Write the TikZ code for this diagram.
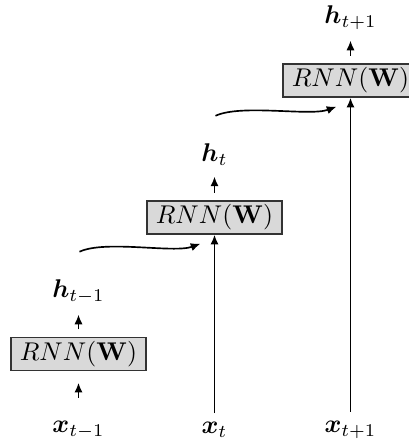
\documentclass[tikz,border=0pt]{standalone}
\usepackage{bm}
\usepackage{tikz}
\usetikzlibrary{positioning}
\usetikzlibrary{calc}
\usetikzlibrary{arrows.meta}

\begin{document}
\begin{tikzpicture}[x = 0.39pt, y = -0.39pt, >={Latex[length = 3.8pt, width = 3.2pt]}, line width = 0.65pt,
                    font = \fontsize{10.3}{12.5}\selectfont,
                    rnnRectangle/.style = {draw = black!80, line width = 0.5pt, rectangle, fill = black!15, inner sep = 0pt,
                                           minimum width = 52.6pt, minimum height = 12.9pt},
                    inArrow/.style = {->, shorten < = 5.5pt, shorten > = 4.5pt},
                    outArrow/.style = {->, shorten < = 2.9pt, shorten > = 0.5pt},
                    stateArrow/.style = {->, out = 25, in = 200, looseness = 0.6}]
    \useasboundingbox (0,0) rectangle (409,441);

    % the three unrolled cells
    \node [rnnRectangle] (rnn0) at ( 78.5, 354) {$RNN(\mathbf{W})$};
    \node [rnnRectangle] (rnn1) at (214.5, 217.5) {$RNN(\mathbf{W})$};
    \node [rnnRectangle] (rnn2) at (350.5, 80.5) {$RNN(\mathbf{W})$};

    % inputs and outputs
    \node (x0) at ( 78.5, 430) {$\bm{x}_{t-1}$};
    \node (x1) at (214.5, 430) {$\bm{x}_{t}$};
    \node (x2) at (350.5, 430) {$\bm{x}_{t+1}$};
    \node (h0) at ( 78.5, 292) {$\bm{h}_{t-1}$};
    \node (h1) at (214.5, 155) {$\bm{h}_{t}$};
    \node (h2) at (350.5, 18) {$\bm{h}_{t+1}$};

    \draw [inArrow] (x0) -- (rnn0);
    \draw [->] (x1) -- (rnn1);
    \draw [->] (x2) -- (rnn2);
    \draw [outArrow] (rnn0) -- (h0);
    \draw [outArrow] (rnn1) -- (h1);
    \draw [outArrow] (rnn2) -- (h2);

    % hidden state passed on
    \draw [stateArrow] ($(h0.north)+(1,-19)$) to ($(rnn1.south)+(-14,9)$);
    \draw [stateArrow] ($(h1.north)+(1,-19)$) to ($(rnn2.south)+(-14,9)$);
\end{tikzpicture}
\end{document}
